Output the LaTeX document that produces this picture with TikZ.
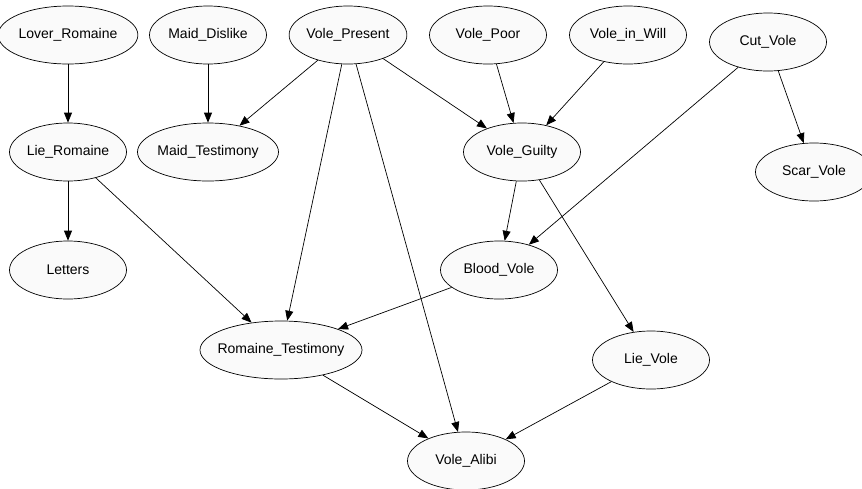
\documentclass[tikz,border=0pt]{standalone}
\usepackage{fontspec}
\setmainfont{Liberation Sans}
\usetikzlibrary{shapes.geometric,arrows.meta}
\tikzset{bn/.style={ellipse, draw, fill=gray!4, line width=0.7pt, minimum width=117pt, minimum height=58pt, inner sep=0pt},
  wide/.style={minimum width=#1, inner xsep=-12pt}}
\begin{document}
\begin{tikzpicture}[x=1pt, y=-1pt, font=\fontsize{14}{16}\selectfont, line join=round, >={Triangle[length=10pt,width=8pt]}]
\useasboundingbox (0,0) rectangle (862,488);
\clip (0,0) rectangle (862,488);
% top row
\node[bn] (lover) at (68,35) {Lover\_Romaine};
\node[bn] (dislike) at (208,35) {Maid\_Dislike};
\node[bn] (present) at (348,35) {Vole\_Present};
\node[bn] (poor) at (488,35) {Vole\_Poor};
\node[bn] (will) at (628,35) {Vole\_in\_Will};
\node[bn] (cut) at (768,42) {Cut\_Vole};
% second row
\node[bn] (lierom) at (68,152) {Lie\_Romaine};
\node[bn, wide=141pt] (maidtest) at (208,152) {Maid\_Testimony};
\node[bn] (guilty) at (522,152) {Vole\_Guilty};
\node[bn] (scar) at (814,172) {Scar\_Vole};
% lower rows
\node[bn] (letters) at (68,270) {Letters};
\node[bn] (blood) at (499,270) {Blood\_Vole};
\node[bn, wide=162pt] (romtest) at (281,350) {Romaine\_Testimony};
\node[bn] (lievole) at (651,360) {Lie\_Vole};
\node[bn] (alibi) at (466,461) {Vole\_Alibi};
\foreach \a/\b in {lover/lierom, dislike/maidtest, present/maidtest, present/guilty, present/romtest,
  present/alibi, poor/guilty, will/guilty, cut/blood, cut/scar, lierom/letters, lierom/romtest,
  guilty/blood, guilty/lievole, blood/romtest, romtest/alibi, lievole/alibi}
  {\draw[->, line width=0.7pt] (\a) -- (\b);}
\end{tikzpicture}
\end{document}
